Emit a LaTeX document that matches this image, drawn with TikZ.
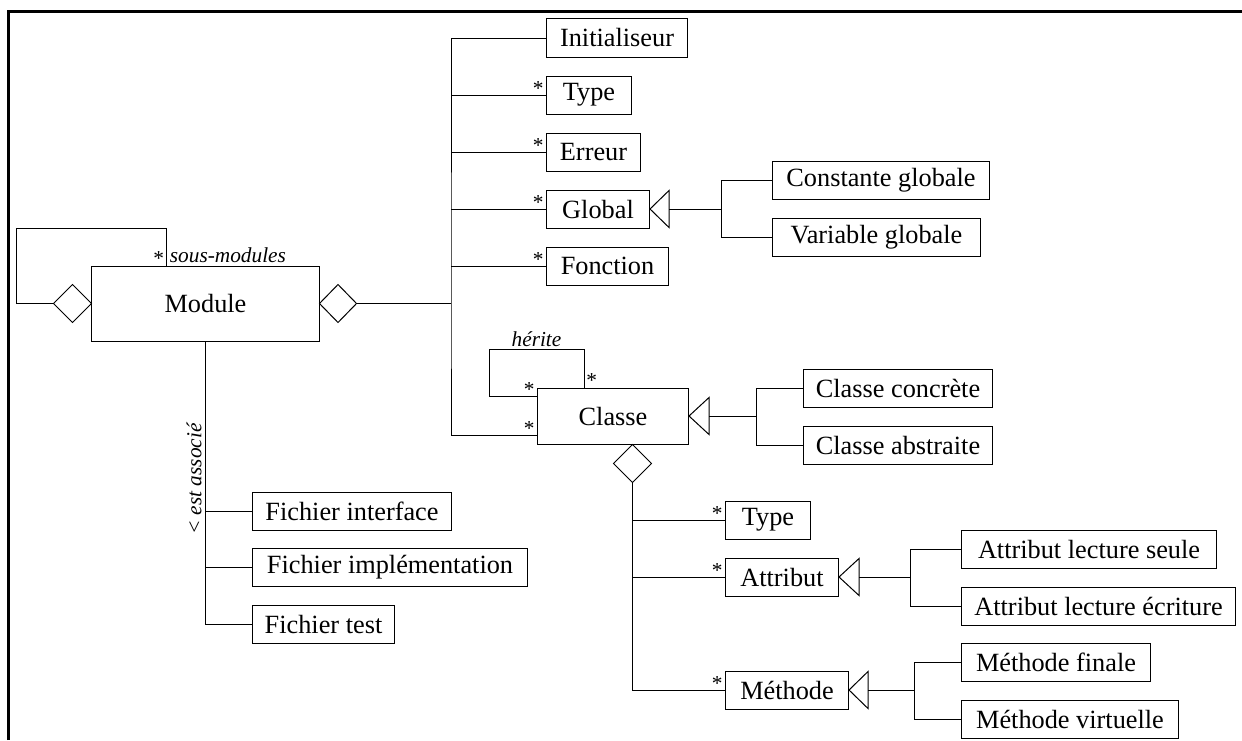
\documentclass[tikz,border=0pt]{standalone}
\usepackage{fontspec}
\setmainfont{Liberation Serif}
\usetikzlibrary{calc}

\begin{document}
\begin{tikzpicture}[x=0.5bp, y=0.5bp, font=\fontsize{13.2}{15}\selectfont,
      box/.style={draw, line width=0.5bp, minimum height=19bp, inner sep=0pt, anchor=west},
      link/.style={draw, line width=0.5bp},
      shp/.style={draw, line width=0.5bp, fill=white},
      mult/.style={font=\fontsize{10.7}{12}\selectfont, inner sep=1bp},
      role/.style={font=\fontsize{10.7}{12}\selectfont\itshape, inner sep=1bp}]

    \useasboundingbox (0,0) rectangle (1242,-740);
    \draw[line width=1.5bp] (8,-740) -- (8,-11.5) -- (1242,-11.5);

    \node[box, anchor=center, minimum width=113.5bp, minimum height=37.5bp] (mod) at (205.5,-303.5) {Module};

    \node[box, minimum width=70.5bp]  (ini) at (546,-38)  {Initialiseur};
    \node[box, minimum width=42.5bp]  (ty1) at (546,-95)  {Type};
    \node[box, minimum width=47bp]    (err) at (546,-152) {Erreur};
    \node[box, minimum width=51.5bp]  (glo) at (546,-209) {Global};
    \node[box, minimum width=61bp]    (fon) at (546,-266) {Fonction};
    \node[box, minimum width=108.5bp] (cg)  at (772,-180) {Constante globale};
    \node[box, minimum width=104bp]   (vg)  at (772,-237) {Variable globale};

    \node[box, minimum width=75.5bp, minimum height=28bp] (cls) at (537,-416) {Classe};
    \node[box, minimum width=94.5bp]  (cc)  at (803,-388) {Classe concrète};
    \node[box, minimum width=94.5bp]  (ca)  at (803,-445) {Classe abstraite};

    \node[box, minimum width=99.5bp]  (fi)  at (252,-511) {Fichier interface};
    \node[box, minimum width=137.5bp] (fim) at (252,-567) {Fichier implémentation};
    \node[box, minimum width=71bp]    (ft)  at (252,-624) {Fichier test};

    \node[box, minimum width=42.5bp]  (ty2) at (725,-520) {Type};
    \node[box, minimum width=56.5bp]  (att) at (725,-577) {Attribut};
    \node[box, minimum width=61.5bp]  (met) at (725,-690) {Méthode};
    \node[box, minimum width=127.5bp] (als) at (961,-549) {Attribut lecture seule};
    \node[box, minimum width=137bp]   (ale) at (961,-606) {Attribut lecture écriture};
    \node[box, minimum width=94.5bp]  (mf)  at (961,-662) {Méthode finale};
    \node[box, minimum width=108.5bp] (mv)  at (961,-719) {Méthode virtuelle};

    \draw[shp] (mod.west) -- ++(-19,19) -- ++(-19,-19) coordinate (dmL) -- ++(19,-19) -- cycle;
    \draw[shp] (mod.east) -- ++(18.5,19) -- ++(18.5,-19) coordinate (dmR) -- ++(-18.5,-19) -- cycle;
    \draw[shp] ($(cls.south)+(19.5,0)$) -- ++(19,-19) -- ++(-19,-19) coordinate (dmC) -- ++(-19,19) -- cycle;

    \foreach \n/\w/\d/\a/\b in {glo/19/52/cg/vg, cls/20/47/cc/ca, att/20/51/als/ale, met/19/46/mf/mv} {
      \draw[shp] (\n.east) -- ++(\w,18.5) -- ++(0,-37) -- cycle;
      \coordinate (\n-b) at ($(\n.east)+(\w,0)$);
      \draw[link] (\n-b) -- ++(\d,0) coordinate (\n-j);
      \draw[link] (\a.west) -| (\n-j) |- (\b.west);
    }

    \coordinate (bus) at (451,-303.5);
    \coordinate (clsIn) at ($(cls.south west)+(0,9)$);
    \draw[link] (dmR) -- (bus);
    \draw[link] (ini.west) -| (bus) |- (clsIn);
    \foreach \n in {ty1,err,glo,fon} {
      \draw[link] (\n.west) -- (bus |- \n.west);
      \node[mult, anchor=base east] (\n-s) at (\n.west) {*};
    }
    \node[mult, anchor=base east] (cls-s) at (clsIn) {*};

    \coordinate (hL) at ($(cls.north west)+(0,-9)$);
    \coordinate (hT) at ($(cls.north west)+(47,0)$);
    \draw[link] (hL) -- ++(-48,0) -- ++(0,47) -| (hT);
    \node[mult, anchor=base east] (hL-s) at (hL) {*};
    \node[mult, anchor=base west] (hT-s) at (hT) {*};
    \node[role, anchor=south] (her) at ($(hT)+(-47.5,38)$) {hérite};

    \coordinate (smT) at ($(mod.north west)+(75,0)$);
    \draw[link] (dmL) -- ++(-37,0) -- ++(0,75.5) -| (smT);
    \node[mult, anchor=base east] (sm-s) at (smT) {*};
    \node[role, anchor=base west] (sm) at ($(smT)+(1,3)$) {sous-modules};

    \draw[link] (mod.south) |- (ft.west);
    \foreach \n in {fi,fim} { \draw[link] (\n.west) -- (mod.south |- \n.west); }
    \node[role, rotate=90] (ea) at (194,-479) {< est associé};

    \draw[link] (dmC) |- (met.west);
    \foreach \n in {ty2,att,met} {
      \draw[link] (\n.west) -- (dmC |- \n.west);
      \node[mult, anchor=base east] (\n-s) at (\n.west) {*};
    }
  \end{tikzpicture}
\end{document}
